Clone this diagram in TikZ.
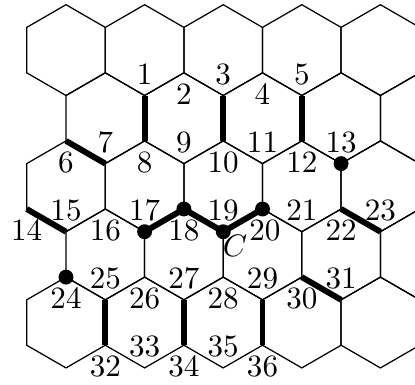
\documentclass[tikz,border=0pt]{standalone}
\begin{document}
\begin{tikzpicture}[x=0.322pt,y=-0.322pt,
  gridline/.style={line width=0.4pt},
  boldedge/.style={line width=1.9pt},
  vdot/.style={circle,fill=black,inner sep=0pt,minimum size=4.8pt},
  lbl/.style={inner sep=0pt}]
\useasboundingbox (0,0) rectangle (415,384);
\begin{scope}
\clip (0,0) rectangle (415,384);
\foreach \r in {0,...,4}{
  \foreach \k in {0,...,4}{
    \pgfmathsetmacro{\cx}{66+78.6*\k+39.3*mod(\r,2)}
    \pgfmathsetmacro{\cy}{50.1+68.1*\r}
    \draw[gridline] (\cx,\cy-45.4) -- ++(39.3,22.7) -- ++(0,45.4) -- ++(-39.3,22.7) -- ++(-39.3,-22.7) -- ++(0,-45.4) -- cycle;
  }
}
\end{scope}
% vertices
\coordinate (v1) at (144.6,95.5);
\coordinate (v2) at (183.9,72.8);
\coordinate (v3) at (223.2,95.5);
\coordinate (v4) at (262.5,72.8);
\coordinate (v5) at (301.8,95.5);
\coordinate (v6) at (66,140.9);
\coordinate (v7) at (105.3,163.6);
\coordinate (v8) at (144.6,140.9);
\coordinate (v9) at (183.9,163.6);
\coordinate (v10) at (223.2,140.9);
\coordinate (v11) at (262.5,163.6);
\coordinate (v12) at (301.8,140.9);
\coordinate (v13) at (341.1,163.6);
\coordinate (v14) at (26.7,209.0);
\coordinate (v15) at (66,231.7);
\coordinate (v16) at (105.3,209.0);
\coordinate (v17) at (144.6,231.7);
\coordinate (v18) at (183.9,209.0);
\coordinate (v19) at (223.2,231.7);
\coordinate (v20) at (262.5,209.0);
\coordinate (v21) at (301.8,231.7);
\coordinate (v22) at (341.1,209.0);
\coordinate (v23) at (380.4,231.7);
\coordinate (v24) at (66,277.1);
\coordinate (v25) at (105.3,299.8);
\coordinate (v26) at (144.6,277.1);
\coordinate (v27) at (183.9,299.8);
\coordinate (v28) at (223.2,277.1);
\coordinate (v29) at (262.5,299.8);
\coordinate (v30) at (301.8,277.1);
\coordinate (v31) at (341.1,299.8);
\coordinate (v32) at (105.3,345.2);
\coordinate (v33) at (144.6,367.9);
\coordinate (v34) at (183.9,345.2);
\coordinate (v35) at (223.2,367.9);
\coordinate (v36) at (262.5,345.2);
% bold edges
\draw[boldedge] (v1) -- (v8);
\draw[boldedge] (v3) -- (v10);
\draw[boldedge] (v5) -- (v12);
\draw[boldedge] (v6) -- (v7);
\draw[boldedge] (v14) -- (v15);
\draw[boldedge,line join=round] (v17) -- (v18) -- (v19) -- (v20);
\draw[boldedge] (v22) -- (v23);
\draw[boldedge] (v30) -- (v31);
\draw[boldedge] (v25) -- (v32);
\draw[boldedge] (v27) -- (v34);
\draw[boldedge] (v29) -- (v36);
% dots
\foreach \v in {13,17,18,19,20,24}{
  \node[vdot] (d\v) at (v\v) {};
}
% labels above
\foreach \v in {1,3,5,7,9,11,13,15,17,19,21,23,25,27,29,31,33,35}{
  \node[lbl] (l\v) at ([yshift=6.8pt]v\v) {\v};
}
% labels below
\foreach \v in {2,4,6,8,10,12,14,16,18,22,24,26,28,30,32,34,36}{
  \node[lbl] (l\v) at ([yshift=-6.8pt]v\v) {\v};
}
\node[lbl] (l20) at ([xshift=0.8pt,yshift=-6.8pt]v20) {20};
\node[lbl] (lC) at ([xshift=3.8pt,yshift=-4.6pt]v19) {$C$};
\end{tikzpicture}
\end{document}
